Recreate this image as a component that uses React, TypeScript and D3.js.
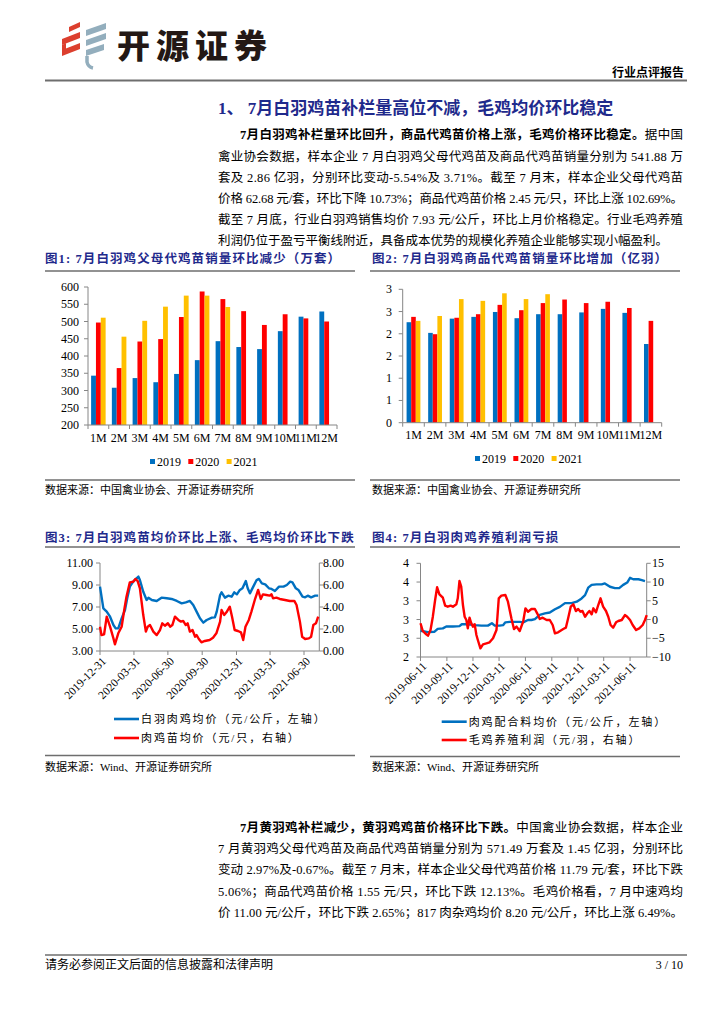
import React from "react";
import * as d3 from "d3";

// ---------------- DATA ----------------
const months = ["1M", "2M", "3M", "4M", "5M", "6M", "7M", "8M", "9M", "10M", "11M", "12M"];
const years = ["2019", "2020", "2021"];
const barColors = ["#0070C0", "#FF0000", "#FFC000"];

// 图1 父母代鸡苗销量（万套）
const parent2019 = [343, 308, 336, 324, 348, 388, 443, 426, 420, 472, 514, 529];
const parent2020 = [497, 365, 442, 449, 513, 587, 565, 530, 490, 521, 509, 500];
const parent2021 = [511, 456, 502, 543, 575, 575, 542];
const chart1Ticks = [200, 250, 300, 350, 400, 450, 500, 550, 600];

// 图2 商品代鸡苗销量（亿羽）
const broiler2019 = [2.26, 2.02, 2.34, 2.38, 2.49, 2.35, 2.44, 2.44, 2.48, 2.56, 2.47, 1.77];
const broiler2020 = [2.38, 1.99, 2.36, 2.44, 2.65, 2.53, 2.69, 2.77, 2.69, 2.72, 2.58, 2.29];
const broiler2021 = [2.29, 2.40, 2.78, 2.74, 2.91, 2.78, 2.89];
const chart2Ticks = [0, 0.5, 1, 1.5, 2, 2.5, 3];

// 图3 白羽肉鸡均价（元/公斤，左轴）
const chickenPrice: [string, number][] = [
  ["2019-12-31", 8.85], ["2020-01-09", 6.88], ["2020-01-18", 6.58], ["2020-01-27", 6.12], ["2020-02-05", 5.36],
  ["2020-02-11", 5.06], ["2020-02-18", 5.06], ["2020-02-27", 5.97], ["2020-03-07", 6.73], ["2020-03-13", 7.79],
  ["2020-03-20", 8.85], ["2020-03-29", 9.30], ["2020-04-07", 9.61], ["2020-04-12", 9.76], ["2020-04-16", 9.45],
  ["2020-04-25", 8.39], ["2020-05-04", 7.64], ["2020-05-09", 7.85], ["2020-05-18", 7.64], ["2020-05-31", 7.55],
  ["2020-06-13", 7.85], ["2020-06-27", 7.79], ["2020-07-10", 7.73], ["2020-07-24", 7.55], ["2020-08-06", 7.33],
  ["2020-08-17", 7.42], ["2020-08-28", 7.55], ["2020-09-06", 7.18], ["2020-09-15", 6.58], ["2020-09-24", 5.97],
  ["2020-10-03", 5.58], ["2020-10-12", 5.82], ["2020-10-26", 6.03], ["2020-11-03", 6.06], ["2020-11-08", 6.58],
  ["2020-11-17", 8.09], ["2020-11-21", 8.33], ["2020-11-30", 7.85], ["2020-12-09", 8.03], ["2020-12-18", 7.94],
  ["2020-12-25", 8.33], ["2021-01-01", 8.15], ["2021-01-09", 8.55], ["2021-01-16", 8.70], ["2021-01-25", 9.36],
  ["2021-01-30", 8.70], ["2021-02-05", 8.24], ["2021-02-14", 8.85], ["2021-02-23", 9.45], ["2021-03-01", 9.55],
  ["2021-03-09", 9.15], ["2021-03-18", 9.06], ["2021-03-28", 8.70], ["2021-04-04", 8.64], ["2021-04-13", 8.45],
  ["2021-04-24", 8.85], ["2021-05-06", 8.85], ["2021-05-15", 9.00], ["2021-05-24", 9.30], ["2021-05-30", 9.24],
  ["2021-06-08", 8.70], ["2021-06-15", 8.55], ["2021-06-26", 7.94], ["2021-07-03", 7.88], ["2021-07-10", 8.03],
  ["2021-07-19", 7.88], ["2021-07-30", 8.03], ["2021-08-07", 8.03],
];
// 图3 肉鸡苗均价（元/只，右轴）
const chickPrice: [string, number][] = [
  ["2019-12-31", 2.21], ["2020-01-04", 1.45], ["2020-01-11", 1.52], ["2020-01-18", 3.12], ["2020-01-27", 2.21],
  ["2020-02-05", 1.15], ["2020-02-09", 0.61], ["2020-02-18", 1.61], ["2020-02-27", 2.21], ["2020-03-05", 3.73],
  ["2020-03-11", 4.94], ["2020-03-20", 6.24], ["2020-03-29", 6.30], ["2020-04-04", 6.55], ["2020-04-10", 6.36],
  ["2020-04-16", 5.70], ["2020-04-25", 3.27], ["2020-05-02", 1.76], ["2020-05-07", 2.21], ["2020-05-13", 2.36],
  ["2020-05-22", 1.76], ["2020-05-31", 1.45], ["2020-06-09", 1.91], ["2020-06-15", 2.52], ["2020-06-22", 2.30],
  ["2020-06-30", 2.52], ["2020-07-06", 2.21], ["2020-07-12", 2.36], ["2020-07-19", 3.12], ["2020-07-28", 2.82],
  ["2020-08-04", 2.67], ["2020-08-10", 2.73], ["2020-08-17", 2.36], ["2020-08-22", 2.52], ["2020-08-28", 1.76],
  ["2020-09-04", 1.91], ["2020-09-11", 1.30], ["2020-09-15", 1.45], ["2020-09-21", 1.09], ["2020-09-28", 0.79],
  ["2020-10-07", 0.91], ["2020-10-20", 1.00], ["2020-10-29", 1.21], ["2020-11-07", 1.61], ["2020-11-17", 2.67],
  ["2020-11-21", 3.73], ["2020-11-28", 3.27], ["2020-12-04", 3.52], ["2020-12-13", 4.03], ["2020-12-19", 3.12],
  ["2020-12-26", 1.91], ["2021-01-04", 1.82], ["2021-01-12", 1.70], ["2021-01-18", 1.00], ["2021-01-24", 2.21],
  ["2021-02-02", 2.82], ["2021-02-09", 3.58], ["2021-02-18", 4.64], ["2021-02-27", 5.55], ["2021-03-06", 4.73],
  ["2021-03-12", 5.15], ["2021-03-21", 5.09], ["2021-03-30", 5.03], ["2021-04-04", 5.15], ["2021-04-08", 4.79],
  ["2021-04-17", 4.85], ["2021-04-26", 4.73], ["2021-05-10", 4.64], ["2021-05-23", 4.55], ["2021-06-04", 4.55],
  ["2021-06-10", 4.18], ["2021-06-19", 2.67], ["2021-06-25", 1.30], ["2021-07-03", 1.09], ["2021-07-13", 1.15],
  ["2021-07-19", 1.30], ["2021-07-25", 2.36], ["2021-08-01", 2.52], ["2021-08-07", 3.12],
];
const chart3Dates = ["2019-12-31", "2020-03-31", "2020-06-30", "2020-09-30", "2020-12-31", "2021-03-31", "2021-06-30"];
const chart3LeftTicks = [3, 5, 7, 9, 11];
const chart3RightTicks = [0, 2, 4, 6, 8];

// 图4 肉鸡配合料均价（元/公斤，左轴）
const feedPrice: [string, number][] = [
  ["2019-06-11", 2.76], ["2019-07-07", 2.73], ["2019-07-30", 2.74], ["2019-08-10", 2.80], ["2019-08-28", 2.81],
  ["2019-09-09", 2.85], ["2019-10-02", 2.85], ["2019-10-25", 2.86], ["2019-11-02", 2.90], ["2019-11-23", 2.90],
  ["2019-12-17", 2.88], ["2020-01-09", 2.87], ["2020-02-01", 2.87], ["2020-02-15", 2.92], ["2020-02-25", 2.87],
  ["2020-03-13", 2.87], ["2020-03-25", 2.88], ["2020-04-02", 2.94], ["2020-04-17", 2.95], ["2020-05-05", 2.95],
  ["2020-05-22", 2.95], ["2020-06-03", 2.94], ["2020-06-20", 2.99], ["2020-07-02", 2.99], ["2020-07-14", 3.01],
  ["2020-07-31", 3.10], ["2020-08-18", 3.13], ["2020-09-04", 3.15], ["2020-09-22", 3.22], ["2020-10-09", 3.27],
  ["2020-10-27", 3.35], ["2020-11-19", 3.35], ["2020-12-07", 3.38], ["2020-12-24", 3.45], ["2021-01-05", 3.52],
  ["2021-01-16", 3.68], ["2021-01-28", 3.74], ["2021-02-14", 3.75], ["2021-03-04", 3.75], ["2021-03-15", 3.77],
  ["2021-04-02", 3.70], ["2021-04-19", 3.67], ["2021-05-04", 3.67], ["2021-05-18", 3.74], ["2021-06-01", 3.79],
  ["2021-06-11", 3.89], ["2021-06-22", 3.86], ["2021-07-10", 3.86], ["2021-07-22", 3.84], ["2021-08-02", 3.82],
];
// 图4 毛鸡养殖利润（元/羽，右轴）
const farmProfit: [string, number][] = [
  ["2019-06-11", -1.0], ["2019-06-19", -3.06], ["2019-07-01", -3.94], ["2019-07-07", -4.3], ["2019-07-16", -2.8],
  ["2019-07-24", 0.75], ["2019-08-01", 5.2], ["2019-08-08", 8.6], ["2019-08-16", 6.73], ["2019-08-28", 5.82],
  ["2019-09-05", 3.69], ["2019-09-14", 3.42], ["2019-09-24", 3.69], ["2019-10-02", 3.42], ["2019-10-14", 4.06],
  ["2019-10-19", 5.66], ["2019-10-25", 10.28], ["2019-10-31", 8.76], ["2019-11-06", 3.87], ["2019-11-12", 0.75],
  ["2019-11-18", -0.13], ["2019-11-23", -2.35], ["2019-11-29", 0.49], ["2019-12-05", -1.0], ["2019-12-11", -1.9],
  ["2019-12-17", -1.28], ["2019-12-23", -4.13], ["2019-12-28", -5.46], ["2020-01-06", -7.68], ["2020-01-15", -6.61],
  ["2020-01-27", -6.34], ["2020-02-07", -6.08], ["2020-02-19", -5.01], ["2020-03-02", -2.8], ["2020-03-10", 5.66],
  ["2020-03-19", 6.36], ["2020-04-02", 6.54], ["2020-04-11", 4.76], ["2020-04-23", 0.32], ["2020-05-02", -2.53],
  ["2020-05-11", -1.9], ["2020-05-22", -3.06], ["2020-06-03", -0.58], ["2020-06-11", 2.98], ["2020-06-20", 2.09],
  ["2020-07-02", 2.8], ["2020-07-14", 2.81], ["2020-07-22", 1.65], ["2020-07-31", 0.14], ["2020-08-10", 0.49],
  ["2020-08-24", -0.13], ["2020-09-04", -0.13], ["2020-09-14", -1.46], ["2020-09-22", -3.68], ["2020-10-03", -3.41],
  ["2020-10-21", -2.53], ["2020-10-30", -2.18], ["2020-11-07", 0.32], ["2020-11-16", 3.42], ["2020-11-25", 4.06],
  ["2020-12-04", 2.27], ["2020-12-12", 2.81], ["2020-12-20", 2.09], ["2020-12-27", 2.27], ["2021-01-05", 0.75],
  ["2021-01-13", 1.65], ["2021-01-20", 2.27], ["2021-01-28", 1.38], ["2021-02-03", 2.98], ["2021-02-12", 1.92],
  ["2021-02-20", 3.87], ["2021-02-28", 5.66], ["2021-03-09", 3.42], ["2021-03-19", 2.27], ["2021-03-27", 0.75],
  ["2021-04-04", -1.46], ["2021-04-13", -2.18], ["2021-04-23", -0.75], ["2021-05-01", -0.4], ["2021-05-13", -0.13],
  ["2021-05-24", 1.2], ["2021-06-01", 0.75], ["2021-06-11", -0.13], ["2021-06-20", -1.46], ["2021-07-02", -2.8],
  ["2021-07-13", -2.35], ["2021-07-25", -1.46], ["2021-08-02", -0.13], ["2021-08-08", 1.2],
];
const chart4Dates = ["2019-06-11", "2019-09-11", "2019-12-11", "2020-03-11", "2020-06-11", "2020-09-11", "2020-12-11", "2021-03-11", "2021-06-11"];
const chart4LeftTicks = [2.2, 2.6, 3.0, 3.4, 3.8, 4.2];
const chart4RightTicks = [-10, -5, 0, 5, 10, 15];

// ---------------- TEXT ----------------
const sectionTitle = "1、 7月白羽鸡苗补栏量高位不减，毛鸡均价环比稳定";
const para1Bold = "7月白羽鸡补栏量环比回升，商品代鸡苗价格上涨，毛鸡价格环比稳定。";
const para1Lines = [
  "据中国",
  "禽业协会数据，样本企业 7 月白羽鸡父母代鸡苗及商品代鸡苗销量分别为 541.88 万",
  "套及 2.86 亿羽，分别环比变动-5.54%及 3.71%。截至 7 月末，样本企业父母代鸡苗",
  "价格 62.68 元/套，环比下降 10.73%；商品代鸡苗价格 2.45 元/只，环比上涨 102.69%。",
  "截至 7 月底，行业白羽鸡销售均价 7.93 元/公斤，环比上月价格稳定。行业毛鸡养殖",
  "利润仍位于盈亏平衡线附近，具备成本优势的规模化养殖企业能够实现小幅盈利。",
];
const para2Bold = "7月黄羽鸡补栏减少，黄羽鸡鸡苗价格环比下跌。";
const para2Lines = [
  "中国禽业协会数据，样本企业",
  "7 月黄羽鸡父母代鸡苗及商品代鸡苗销量分别为 571.49 万套及 1.45 亿羽，分别环比",
  "变动 2.97%及-0.67%。截至 7 月末，样本企业父母代鸡苗价格 11.79 元/套，环比下跌",
  "5.06%；商品代鸡苗价格 1.55 元/只，环比下跌 12.13%。毛鸡价格看，7 月中速鸡均",
  "价 11.00 元/公斤，环比下跌 2.65%；817 肉杂鸡均价 8.20 元/公斤，环比上涨 6.49%。",
];
const fig1Title = "图1: 7月白羽鸡父母代鸡苗销量环比减少（万套）";
const fig2Title = "图2: 7月白羽鸡商品代鸡苗销量环比增加（亿羽）";
const fig3Title = "图3: 7月白羽鸡苗均价环比上涨、毛鸡均价环比下跌";
const fig4Title = "图4: 7月白羽肉鸡养殖利润亏损";
const srcAssoc = "数据来源：中国禽业协会、开源证券研究所";
const srcWind = "数据来源：Wind、开源证券研究所";
const fig3Legend = ["白羽肉鸡均价（元/公斤，左轴）", "肉鸡苗均价（元/只，右轴）"];
const fig4Legend = ["肉鸡配合料均价（元/公斤，左轴）", "毛鸡养殖利润（元/羽，右轴）"];
const lineColors = ["#0070C0", "#FF0000"];

// ---------------- STYLE ----------------
const FONT = "'Liberation Serif', 'Times New Roman', 'Noto Sans CJK SC', serif";
const NAVY = "#1F2A8C";
const AXIS = "#868686";
const RULE = "#6E6E6E";

const parseDate = d3.timeParse("%Y-%m-%d");

type BarProps = {
  left: number; right: number; top: number; bottom: number;
  domain: [number, number]; ticks: number[]; fmt: (v: number) => string;
  series: number[][]; pad: number; labelEnd: number; xLabelY: number;
  legendX: number; legendY: number;
};

function BarChart(p: BarProps) {
  const x0 = d3.scaleBand<string>().domain(months).range([p.left, p.right]).paddingInner(p.pad).paddingOuter(p.pad / 2);
  const x1 = d3.scaleBand<string>().domain(years).range([0, x0.bandwidth()]);
  const y = d3.scaleLinear().domain(p.domain).range([p.bottom, p.top]);
  const step = x0.step();
  return (
    <g>
      {p.series.map((vals, si) =>
        vals.map((v, mi) => (
          <rect key={`${si}-${mi}`} x={(x0(months[mi]) as number) + (x1(years[si]) as number)} y={y(v)}
            width={x1.bandwidth()} height={p.bottom - y(v)} fill={barColors[si]} />
        ))
      )}
      <line x1={p.left} x2={p.left} y1={p.top} y2={p.bottom} stroke={AXIS} />
      {p.ticks.map((t) => (
        <g key={t}>
          <line x1={p.left - 4} x2={p.left} y1={y(t)} y2={y(t)} stroke={AXIS} />
          <text x={p.labelEnd} y={y(t)} textAnchor="end" dominantBaseline="central" fontSize={12}>{p.fmt(t)}</text>
        </g>
      ))}
      <line x1={p.left} x2={p.right} y1={p.bottom} y2={p.bottom} stroke={AXIS} />
      {d3.range(months.length + 1).map((i) => (
        <line key={i} x1={p.left + i * step} x2={p.left + i * step} y1={p.bottom} y2={p.bottom + 4} stroke={AXIS} />
      ))}
      {months.map((m) => (
        <text key={m} x={(x0(m) as number) + x0.bandwidth() / 2} y={p.xLabelY} textAnchor="middle" dominantBaseline="central" fontSize={12}>{m}</text>
      ))}
      {years.map((yr, i) => (
        <g key={yr}>
          <rect x={p.legendX + i * 38.3} y={p.legendY - 2.5} width={5} height={5} fill={barColors[i]} />
          <text x={p.legendX + i * 38.3 + 7} y={p.legendY} dominantBaseline="central" fontSize={12}>{yr}</text>
        </g>
      ))}
    </g>
  );
}

type LineProps = {
  left: number; right: number; top: number; bottom: number;
  start: string; end: string; dates: string[];
  lDomain: [number, number]; rDomain: [number, number];
  lTicks: number[]; rTicks: number[];
  lFmt: (v: number) => string; rFmt: (v: number) => string;
  lLabelEnd: number; rLabelStart: number;
  lData: [string, number][]; rData: [string, number][];
  legend: string[]; legendX: number; legendY: number[];
  dateDx: number; dateDy: number;
};

function LineChart(p: LineProps) {
  const x = d3.scaleTime().domain([parseDate(p.start) as Date, parseDate(p.end) as Date]).range([p.left, p.right]);
  const yl = d3.scaleLinear().domain(p.lDomain).range([p.bottom, p.top]);
  const yr = d3.scaleLinear().domain(p.rDomain).range([p.bottom, p.top]);
  const lLine = d3.line<[string, number]>().x((d) => x(parseDate(d[0]) as Date)).y((d) => yl(d[1]));
  const rLine = d3.line<[string, number]>().x((d) => x(parseDate(d[0]) as Date)).y((d) => yr(d[1]));
  return (
    <g>
      <line x1={p.left} x2={p.left} y1={p.top} y2={p.bottom} stroke={AXIS} />
      <line x1={p.right} x2={p.right} y1={p.top} y2={p.bottom} stroke={AXIS} />
      <line x1={p.left} x2={p.right} y1={p.bottom} y2={p.bottom} stroke={AXIS} />
      {p.lTicks.map((t) => (
        <g key={"l" + t}>
          <line x1={p.left - 4} x2={p.left} y1={yl(t)} y2={yl(t)} stroke={AXIS} />
          <text x={p.lLabelEnd} y={yl(t)} textAnchor="end" dominantBaseline="central" fontSize={12}>{p.lFmt(t)}</text>
        </g>
      ))}
      {p.rTicks.map((t) => (
        <g key={"r" + t}>
          <line x1={p.right} x2={p.right + 4} y1={yr(t)} y2={yr(t)} stroke={AXIS} />
          <text x={p.rLabelStart} y={yr(t)} dominantBaseline="central" fontSize={12}>{p.rFmt(t)}</text>
        </g>
      ))}
      {p.dates.map((d) => {
        const xx = x(parseDate(d) as Date);
        return (
          <g key={d}>
            <line x1={xx} x2={xx} y1={p.bottom} y2={p.bottom + 4} stroke={AXIS} />
            <text transform={`translate(${xx + p.dateDx},${p.bottom + p.dateDy}) rotate(-45)`} textAnchor="end"
              dominantBaseline="central" fontSize={11.5}>{d}</text>
          </g>
        );
      })}
      <path d={lLine(p.lData) as string} fill="none" stroke={lineColors[0]} strokeWidth={2.4} strokeLinejoin="round" />
      <path d={rLine(p.rData) as string} fill="none" stroke={lineColors[1]} strokeWidth={2.4} strokeLinejoin="round" />
      {p.legend.map((t, i) => (
        <g key={t}>
          <line x1={p.legendX} x2={p.legendX + 25} y1={p.legendY[i]} y2={p.legendY[i]} stroke={lineColors[i]} strokeWidth={2.6} />
          <text x={p.legendX + 27} y={p.legendY[i]} dominantBaseline="central" fontSize={11} letterSpacing={1.9}>{t}</text>
        </g>
      ))}
    </g>
  );
}

function Logo() {
  const red = "#DC3F2E";
  const gray = "#93AEBD";
  return (
    <g>
      <polygon points="69,27 80,22 80,27 69,32" fill={red} />
      <polygon points="62,39 80,32 80,38 62,45" fill={red} />
      <polygon points="62,50 80,43 80,49 62,56" fill={red} />
      <polygon points="62,45 66,43 66,50 62,52" fill={red} />
      <polygon points="86,30 106,23 106,29 86,36" fill={gray} />
      <polygon points="86,40 106,33 106,39 86,46" fill={gray} />
      <polygon points="86,50 104,44 104,50 86,56" fill={gray} />
      <path d="M87,56 L87,62 Q88,67 93,68" fill="none" stroke={gray} strokeWidth={3.5} />
    </g>
  );
}

export default function App() {
  const roundFmt = (v: number) => String(Math.round(v));
  const capStyle = { fontSize: 12.5, fontWeight: "bold" as const, fill: NAVY, letterSpacing: 1.1 };
  return (
    <svg width={724} height={1024} viewBox="0 0 724 1024"
      style={{ position: "absolute", left: 0, top: 0, background: "#fff" }} fontFamily={FONT}>
      <rect x={0} y={0} width={724} height={1024} fill="#fff" />
      {/* header */}
      <Logo />
      <text x={117} y={44} dominantBaseline="central" fontSize={33} fontWeight={900} letterSpacing={6}
        fill="#231815" fontFamily="'Noto Sans CJK SC', sans-serif">开源证券</text>
      <text x={684} y={73} textAnchor="end" dominantBaseline="central" fontSize={12} fontWeight="bold">行业点评报告</text>
      <line x1={45} x2={687} y1={80.5} y2={80.5} stroke={RULE} strokeWidth={1.8} />

      {/* section title */}
      <text x={218} y={108} dominantBaseline="central" fontSize={17} fontWeight="bold" fill={NAVY}>{sectionTitle}</text>

      {/* paragraph 1 */}
      <text x={240} y={135} dominantBaseline="central" fontSize={12.5} textLength={443} lengthAdjust="spacing">
        <tspan fontWeight="bold">{para1Bold}</tspan>
        <tspan>{para1Lines[0]}</tspan>
      </text>
      {para1Lines.slice(1).map((l, i) => (
        <text key={i} x={218} y={156.5 + i * 21.2} dominantBaseline="central" fontSize={12.5}
          textLength={i < 4 ? 465 : undefined} lengthAdjust="spacing">{l}</text>
      ))}

      {/* figure captions row 1 */}
      <text x={45} y={259} dominantBaseline="central" {...capStyle}>{fig1Title}</text>
      <text x={372} y={259} dominantBaseline="central" {...capStyle}>{fig2Title}</text>
      <line x1={45} x2={355} y1={271} y2={271} stroke={RULE} strokeWidth={1.5} />
      <line x1={370} x2={680} y1={271} y2={271} stroke={RULE} strokeWidth={1.5} />

      <BarChart left={88} right={337} top={287} bottom={425} domain={[200, 600]} ticks={chart1Ticks}
        fmt={(v) => String(v)} series={[parent2019, parent2020, parent2021]} pad={0.3} labelEnd={79}
        xLabelY={438} legendX={150} legendY={461.5} />
      <BarChart left={402.7} right={661.7} top={289.3} bottom={422.7} domain={[0, 3]} ticks={chart2Ticks}
        fmt={roundFmt} series={[broiler2019, broiler2020, broiler2021]} pad={0.36} labelEnd={392}
        xLabelY={435} legendX={475} legendY={458.5} />

      <line x1={45} x2={355} y1={480} y2={480} stroke={RULE} strokeWidth={1.5} />
      <line x1={370} x2={680} y1={480} y2={480} stroke={RULE} strokeWidth={1.5} />
      <text x={45} y={490} dominantBaseline="central" fontSize={11}>{srcAssoc}</text>
      <text x={372} y={490} dominantBaseline="central" fontSize={11}>{srcAssoc}</text>

      {/* figure captions row 2 */}
      <text x={45} y={538} dominantBaseline="central" {...capStyle}>{fig3Title}</text>
      <text x={372} y={538} dominantBaseline="central" {...capStyle}>{fig4Title}</text>
      <line x1={45} x2={355} y1={547} y2={547} stroke={RULE} strokeWidth={1.5} />
      <line x1={370} x2={680} y1={547} y2={547} stroke={RULE} strokeWidth={1.5} />

      <LineChart left={100} right={319.3} top={563} bottom={651} start="2019-12-31" end="2021-08-10"
        dates={chart3Dates} lDomain={[3, 11]} rDomain={[0, 8]} lTicks={chart3LeftTicks} rTicks={chart3RightTicks}
        lFmt={d3.format(".2f")} rFmt={d3.format(".2f")} lLabelEnd={93} rLabelStart={323}
        lData={chickenPrice} rData={chickPrice} legend={fig3Legend} legendX={114} legendY={[719, 738]}
        dateDx={4} dateDy={8} />
      <LineChart left={420.5} right={646.7} top={563.3} bottom={657} start="2019-06-11" end="2021-08-08"
        dates={chart4Dates} lDomain={[2.2, 4.2]} rDomain={[-10, 15]} lTicks={chart4LeftTicks} rTicks={chart4RightTicks}
        lFmt={roundFmt} rFmt={d3.format("d")} lLabelEnd={409} rLabelStart={652}
        lData={feedPrice} rData={farmProfit} legend={fig4Legend} legendX={441.7} legendY={[721.7, 740]}
        dateDx={4} dateDy={7} />

      <line x1={45} x2={355} y1={755.5} y2={755.5} stroke={RULE} strokeWidth={1.5} />
      <line x1={370} x2={680} y1={756.5} y2={756.5} stroke={RULE} strokeWidth={1.5} />
      <text x={45} y={767} dominantBaseline="central" fontSize={11}>{srcWind}</text>
      <text x={372} y={767} dominantBaseline="central" fontSize={11}>{srcWind}</text>

      {/* paragraph 2 */}
      <text x={240} y={828} dominantBaseline="central" fontSize={12.5} textLength={443} lengthAdjust="spacing">
        <tspan fontWeight="bold">{para2Bold}</tspan>
        <tspan>{para2Lines[0]}</tspan>
      </text>
      {para2Lines.slice(1).map((l, i) => (
        <text key={i} x={218} y={849.2 + i * 21.2} dominantBaseline="central" fontSize={12.5}
          textLength={465} lengthAdjust="spacing">{l}</text>
      ))}

      {/* footer */}
      <line x1={45} x2={687} y1={955} y2={955} stroke={RULE} strokeWidth={1.5} />
      <text x={45} y={965} dominantBaseline="central" fontSize={12}>请务必参阅正文后面的信息披露和法律声明</text>
      <text x={683} y={965} textAnchor="end" dominantBaseline="central" fontSize={12}>3 / 10</text>
    </svg>
  );
}
